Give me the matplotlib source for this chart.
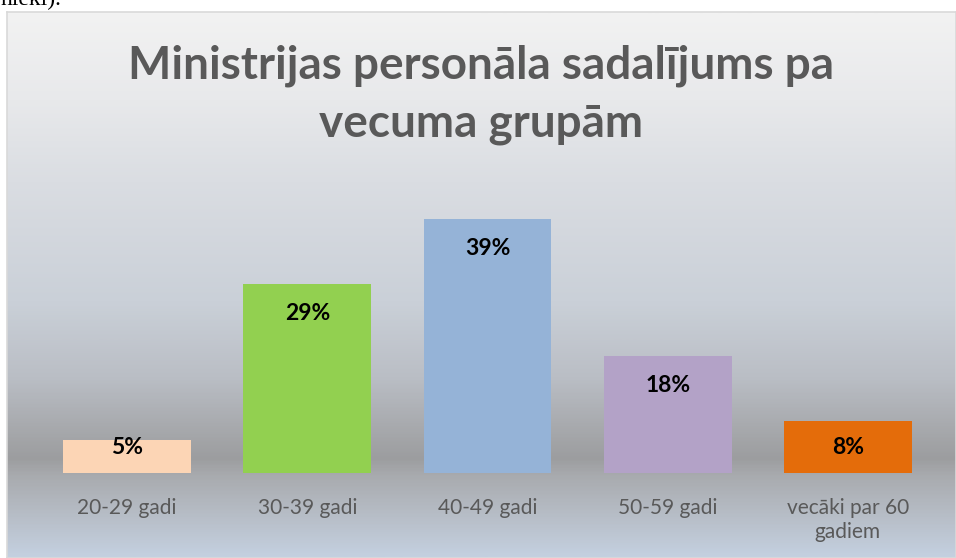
import matplotlib.pyplot as plt
import numpy as np
from matplotlib.colors import LinearSegmentedColormap

categories = ["20-29 gadi", "30-39 gadi", "40-49 gadi", "50-59 gadi", "vecāki par 60\ngadiem"]
shares = [5, 29, 39, 18, 8]
labels = ["5%", "29%", "39%", "18%", "8%"]
colors = ["#FCD5B5", "#92D050", "#95B3D7", "#B3A2C7", "#E46C0A"]
title = "Ministrijas personāla sadalījums pa\nvecuma grupām"

W, H = 956, 558
fig = plt.figure(figsize=(W / 100, H / 100), dpi=100)
fig.patch.set_facecolor("white")

# frame background: vertical gradient (top -> bottom)
stops = [
    (0.00, (242, 242, 242)),
    (0.16, (232, 233, 235)),
    (0.31, (218, 221, 226)),
    (0.53, (202, 208, 216)),
    (0.67, (186, 190, 197)),
    (0.76, (168, 170, 174)),
    (0.82, (156, 157, 159)),
    (0.85, (168, 170, 174)),
    (0.92, (182, 188, 197)),
    (1.00, (196, 208, 224)),
]
cmap = LinearSegmentedColormap.from_list(
    "bg", [(p, tuple(c / 255 for c in rgb)) for p, rgb in stops]
)
left = 7 / W
top_h = (H - 12) / H
bg = fig.add_axes([left, 0, 1 - left, top_h])
bg.imshow(np.linspace(0, 1, 400).reshape(-1, 1), aspect="auto", cmap=cmap,
          extent=[0, 1, 0, 1], origin="upper")
bg.set_xlim(0, 1)
bg.set_ylim(0, 1)
bg.set_xticks([])
bg.set_yticks([])
for s in bg.spines.values():
    s.set_color("#D9D9D9")
    s.set_linewidth(1.2)

# cropped document text above the chart
fig.text(0.0, 1 - 5 / H, "nieki).", fontsize=17, family="Liberation Serif",
         color="black", va="baseline", ha="left")

ax = fig.add_axes([37 / W, 85 / H, 901 / W, 293 / H])
ax.patch.set_alpha(0)
x = np.arange(len(categories))
ax.bar(x, shares, width=0.71, color=colors, zorder=3)
ax.set_xlim(-0.5, len(categories) - 0.5)
ax.set_ylim(0, 45)

for xi, v, lab in zip(x, shares, labels):
    ax.text(xi, max(v - 4.5, 3.9), lab, ha="center", va="center",
            fontsize=16.5, fontweight="bold", family="Lato", color="black", zorder=4)

ax.set_xticks(x)
ax.set_xticklabels(categories, fontsize=15, family="Lato", color="#595959",
                   linespacing=1.25, va="top")
ax.tick_params(axis="x", length=0, pad=18)
ax.set_yticks([])
for s in ax.spines.values():
    s.set_visible(False)

fig.text(0.5 * (left + 1), 1 - 95 / H, title, ha="center", va="center",
         fontsize=33, fontweight="bold", family="Lato", color="#595959",
         linespacing=1.45)

fig.savefig("out.png", dpi=100, facecolor="white")
